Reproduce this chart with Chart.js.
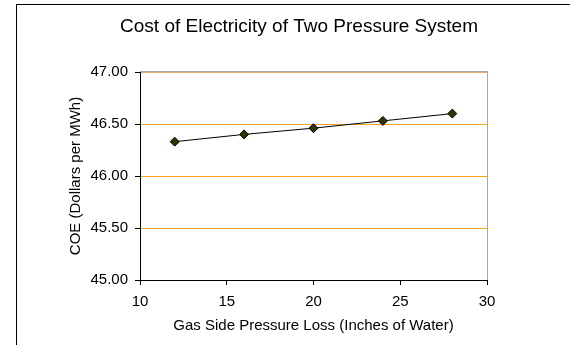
<!DOCTYPE html>
<html>
<head>
<meta charset="utf-8">
<script src="https://cdn.jsdelivr.net/npm/chart.js@4.4.1/dist/chart.umd.min.js"></script>
<style>
  html, body { margin: 0; padding: 0; background: #ffffff; }
  #wrap { position: relative; width: 570px; height: 345px; }
</style>
</head>
<body>
<div id="wrap"><canvas id="chart" width="570" height="345"></canvas></div>
<script>
// Gas-side pressure loss (inches of water) and resulting cost of electricity
const pressureLoss = [12, 16, 20, 24, 28];
const coeValues = [46.33, 46.40, 46.46, 46.53, 46.60];
const xTicks = [10, 15, 20, 25, 30];
const yTicks = [45.00, 45.50, 46.00, 46.50, 47.00];

const chartTitle = 'Cost of Electricity of Two Pressure System';
const xTitle = 'Gas Side Pressure Loss (Inches of Water)';
const yTitle = 'COE (Dollars per MWh)';

const FONT = "'Liberation Sans', Arial, sans-serif";

// Chart frame (wider than the page, so only its left and top edges show)
const FRAME = { left: 16.5, top: 4.5, width: 565, height: 500 };

// Draws the outer frame, the title centred on that frame,
// and the gray top/right edges of the plot area
const framePlugin = {
  id: 'frame',
  beforeDraw(chart) {
    const ctx = chart.ctx;
    ctx.save();
    ctx.fillStyle = '#ffffff';
    ctx.fillRect(0, 0, chart.width, chart.height);
    ctx.strokeStyle = '#000000';
    ctx.lineWidth = 1;
    ctx.strokeRect(FRAME.left, FRAME.top, FRAME.width, FRAME.height);
    ctx.fillStyle = '#000000';
    ctx.font = "19px " + FONT;
    ctx.textAlign = 'center';
    ctx.textBaseline = 'middle';
    ctx.fillText(chartTitle, FRAME.left + FRAME.width / 2, 27);
    ctx.restore();
  },
  afterDatasetsDraw(chart) {
    const { ctx, chartArea: a } = chart;
    ctx.save();
    ctx.lineWidth = 1;
    ctx.strokeStyle = '#a8a8a8';
    ctx.beginPath();
    ctx.moveTo(Math.round(a.left), Math.round(a.top) - 0.5);
    ctx.lineTo(Math.round(a.right) + 1, Math.round(a.top) - 0.5);
    ctx.moveTo(Math.round(a.right) + 0.5, Math.round(a.top) - 1);
    ctx.lineTo(Math.round(a.right) + 0.5, Math.round(a.bottom));
    ctx.stroke();
    ctx.restore();
  }
};

new Chart(document.getElementById('chart'), {
  type: 'line',
  data: {
    datasets: [{
      data: pressureLoss.map((x, i) => ({ x, y: coeValues[i] })),
      borderColor: '#000000',
      borderWidth: 1,
      pointStyle: 'rectRot',
      pointRadius: 4.5,
      pointBackgroundColor: '#333300',
      pointBorderColor: '#000000',
      pointBorderWidth: 1,
      tension: 0,
      clip: false
    }]
  },
  options: {
    responsive: false,
    animation: false,
    events: [],
    layout: { padding: { top: 72, left: 70, right: 83, bottom: 0 } },
    plugins: {
      legend: { display: false },
      tooltip: { enabled: false },
      title: { display: false }
    },
    scales: {
      x: {
        type: 'linear',
        min: 10,
        max: 30,
        afterBuildTicks(scale) { scale.ticks = xTicks.map(v => ({ value: v })); },
        afterFit(scale) { scale.height = 65; },
        grid: { drawOnChartArea: false, drawTicks: true, tickLength: 5, tickColor: '#000000' },
        border: { color: '#000000', width: 1 },
        ticks: { color: '#000000', padding: 8, font: { family: FONT, size: 15 }, maxRotation: 0 },
        title: {
          display: true,
          text: xTitle,
          color: '#000000',
          font: { family: FONT, size: 15 },
          padding: { top: 0, bottom: 10 }
        }
      },
      y: {
        type: 'linear',
        min: 45,
        max: 47,
        afterBuildTicks(scale) { scale.ticks = yTicks.map(v => ({ value: v })); },
        afterFit(scale) { scale.width = 70; },
        grid: {
          color: (c) => c.tick && c.tick.value === 47 ? '#e0b070' : (c.tick && c.tick.value === 45 ? 'rgba(0,0,0,0)' : '#f5a21e'),
          lineWidth: 1,
          drawTicks: true,
          tickLength: 5,
          tickColor: '#000000'
        },
        border: { color: '#000000', width: 1 },
        ticks: {
          color: '#000000',
          padding: 7,
          font: { family: FONT, size: 15 },
          callback: (v) => Number(v).toFixed(2)
        },
        title: {
          display: true,
          text: yTitle,
          color: '#000000',
          font: { family: FONT, size: 15, lineHeight: 1 },
          padding: { top: -2, bottom: 0 }
        }
      }
    }
  },
  plugins: [framePlugin]
});
</script>
</body>
</html>
